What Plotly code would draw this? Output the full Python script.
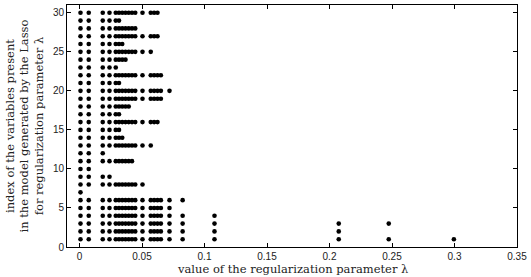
import plotly.graph_objects as go

# Regularization parameter values (columns of dots)
lambdas = [0.0008, 0.0074, 0.0186, 0.024,
           0.029, 0.0316, 0.0342, 0.0368, 0.0394, 0.042, 0.0446,
           0.0504,
           0.057, 0.0597, 0.0624, 0.0651,
           0.072, 0.0825, 0.108, 0.2074, 0.2474, 0.2995]

# Indices of variables present in the Lasso model for each lambda
active_sets = [
    list(range(1, 31)),
    [1, 2, 3, 4, 5, 6] + list(range(8, 31)),
    [1, 2, 3, 4, 5, 6, 8, 9] + list(range(11, 31)),
    [1, 2, 3, 4, 5, 6, 8, 9, 11] + list(range(13, 31)),
    [1, 2, 3, 4, 5, 6, 8, 11] + list(range(13, 31)),
    [1, 2, 3, 4, 5, 6, 8, 11, 13, 14, 15, 16, 17, 18, 19, 20, 21, 22, 24, 25, 26, 27, 28, 29, 30],
    [1, 2, 3, 4, 5, 6, 8, 11, 13, 14, 16, 18, 19, 20, 22, 24, 25, 26, 27, 28, 30],
    [1, 2, 3, 4, 5, 6, 8, 11, 13, 16, 18, 19, 20, 22, 24, 25, 27, 28, 30],
    [1, 2, 3, 4, 5, 6, 8, 11, 13, 16, 18, 19, 20, 22, 25, 27, 28, 30],
    [1, 2, 3, 4, 5, 6, 8, 11, 13, 16, 19, 20, 22, 25, 27, 28, 30],
    [1, 2, 3, 4, 5, 6, 8, 13, 16, 19, 20, 22, 25, 27, 28, 30],
    [1, 2, 3, 4, 5, 6, 8, 13, 16, 19, 20, 22, 25, 27, 30],
    [1, 2, 3, 4, 5, 6, 13, 16, 19, 20, 22, 25, 27, 30],
    [1, 2, 3, 4, 5, 6, 16, 19, 20, 22, 27, 30],
    [1, 2, 3, 4, 5, 6, 16, 19, 20, 22, 27, 30],
    [1, 2, 3, 4, 5, 6, 19, 20, 22],
    [1, 2, 3, 4, 5, 6, 20],
    [1, 2, 3, 4, 6],
    [1, 2, 3, 4],
    [1, 2, 3],
    [1, 3],
    [1],
]

x_ticks = [0, 0.05, 0.1, 0.15, 0.2, 0.25, 0.3, 0.35]
x_tick_labels = ["0", "0.05", "0.1", "0.15", "0.2", "0.25", "0.3", "0.35"]
y_ticks = [0, 5, 10, 15, 20, 25, 30]

xs, ys = [], []
for lam, idx in zip(lambdas, active_sets):
    for i in idx:
        xs.append(lam)
        ys.append(i)

fig = go.Figure(go.Scatter(
    x=xs, y=ys, mode="markers",
    marker=dict(color="black", size=4.6, line=dict(width=0)),
    hoverinfo="skip",
))

axis_common = dict(
    showgrid=False, zeroline=False, showline=True, linecolor="black",
    linewidth=1, mirror="ticks", ticks="inside", ticklen=4,
    tickcolor="black", tickwidth=1,
    tickfont=dict(family="Liberation Sans", size=10, color="#222"),
)

fig.update_layout(
    width=531, height=277,
    margin=dict(l=67, r=14, t=5, b=30),
    paper_bgcolor="white", plot_bgcolor="white",
    showlegend=False,
    xaxis=dict(range=[-0.01, 0.35], tickvals=x_ticks, ticktext=x_tick_labels, **axis_common),
    yaxis=dict(range=[0, 31], tickvals=y_ticks, **axis_common),
    annotations=[
        dict(text="value of the regularization parameter λ",
             xref="paper", yref="paper", x=0.5, y=-0.09,
             xanchor="center", yanchor="middle", showarrow=False,
             font=dict(family="DejaVu Serif", size=11.5, color="#222")),
        dict(text="index of the variables present<br>in the model generated by the Lasso<br>for regularization parameter λ",
             xref="paper", yref="paper", x=-0.0944, y=0.5,
             xanchor="center", yanchor="middle", showarrow=False, textangle=-90,
             font=dict(family="DejaVu Serif", size=11.5, color="#222")),
    ],
)

fig.write_html("out.html")
